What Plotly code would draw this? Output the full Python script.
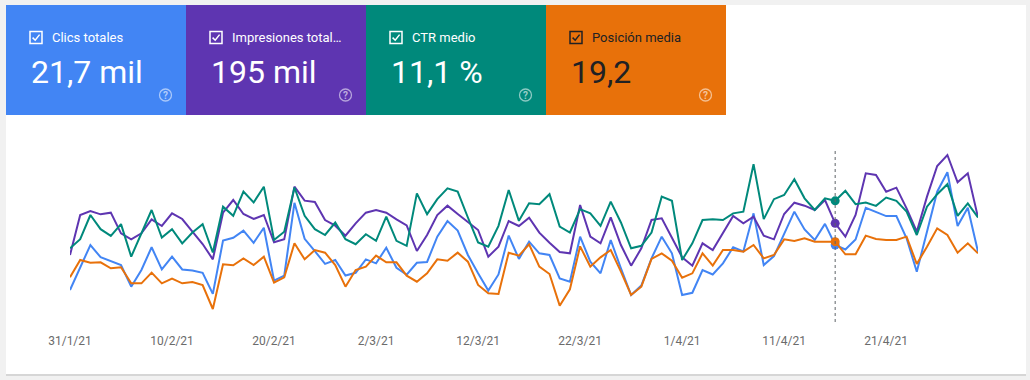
import pandas as pd
import plotly.graph_objects as go

# ---------------- data ----------------
start_date = "2021-01-31"
n_days = 90
dates = pd.date_range(start_date, periods=n_days, freq="D")

clicks = [108, 192, 270, 226, 212, 198, 120, 180, 262, 182,
          228, 182, 178, 170, 94, 286, 296, 322, 278, 332,
          142, 160, 422, 292, 248, 202, 216, 160, 170, 218,
          204, 260, 188, 163, 206, 209, 300, 356, 322, 234,
          168, 106, 164, 304, 220, 282, 240, 234, 150, 138,
          300, 210, 168, 288, 186, 90, 124, 222, 300, 240,
          90, 98, 180, 164, 204, 262, 247, 384, 198, 230,
          310, 390, 326, 288, 346, 270, 254, 290, 404, 388,
          374, 374, 294, 174, 318, 462, 532, 338, 404, 246]

impressions = [1435, 2275, 2359, 2289, 2324, 1890, 1764, 1890, 2184, 2044,
               2310, 2191, 1925, 1666, 1344, 2324, 2590, 2296, 2191, 2275,
               1701, 1764, 2870, 2576, 2548, 2170, 2051, 1841, 2100, 2324,
               2380, 2324, 2184, 2058, 1519, 1855, 2275, 2471, 2296, 2135,
               1960, 1400, 1610, 2149, 2044, 2219, 1904, 1694, 1498, 1470,
               2485, 1820, 1680, 2226, 1645, 1211, 1575, 2170, 2205, 1799,
               1386, 1211, 1680, 1540, 1890, 2254, 2100, 2240, 1841, 1764,
               2296, 2534, 2471, 2380, 2590, 2100, 1820, 2275, 3150, 3115,
               2765, 2849, 2415, 1925, 2660, 3304, 3535, 2961, 3150, 2226]

ctr = [7.2, 8.3, 11.2, 9.5, 8.7, 10.1, 6.2, 9.0, 11.8, 8.5,
       9.5, 7.8, 9.1, 10.1, 6.7, 12.2, 11.1, 14.0, 12.7, 14.6,
       8.2, 9.2, 14.5, 11.1, 9.5, 8.8, 10.3, 8.3, 7.7, 8.9,
       8.1, 11.0, 8.1, 7.5, 13.8, 11.3, 13.1, 14.4, 14.0, 10.9,
       7.9, 7.4, 9.9, 14.2, 10.5, 12.6, 12.5, 13.7, 9.8, 9.1,
       11.9, 11.4, 9.9, 12.8, 10.3, 7.2, 7.5, 9.1, 13.4, 12.9,
       5.8, 7.8, 10.6, 10.7, 10.6, 11.4, 11.6, 17.3, 10.7, 13.1,
       13.6, 15.5, 13.2, 11.8, 13.2, 12.9, 14.1, 12.5, 12.7, 12.3,
       13.3, 12.9, 11.6, 8.8, 12.2, 13.7, 14.9, 11.1, 12.6, 10.9]

position = [21.3, 18.7, 19.1, 19.05, 19.95, 19.8, 22.2, 22.2, 20.6, 22.2,
            21.5, 22.2, 22.0, 22.45, 26.05, 19.35, 19.5, 18.45, 19.45, 18.2,
            22.1, 21.3, 16.2, 18.6, 17.2, 17.6, 19.45, 22.7, 20.2, 19.7,
            18.05, 19.05, 19.05, 21.05, 21.95, 20.7, 18.6, 18.8, 17.6, 18.95,
            22.45, 23.7, 23.8, 17.6, 18.05, 16.35, 19.7, 20.8, 25.55, 23.1,
            16.65, 19.7, 18.3, 17.2, 20.45, 23.95, 22.7, 18.55, 17.7, 18.8,
            21.35, 20.7, 17.7, 19.55, 17.2, 17.2, 17.45, 16.45, 18.45, 17.95,
            15.6, 15.85, 15.45, 15.95, 15.95, 15.95, 17.85, 17.85, 15.05, 15.55,
            15.7, 15.7, 15.2, 19.3, 16.7, 13.95, 14.95, 17.6, 16.2, 17.7]

tick_dates = ["2021-01-31", "2021-02-10", "2021-02-20", "2021-03-02", "2021-03-12",
              "2021-03-22", "2021-04-01", "2021-04-11", "2021-04-21"]
tick_labels = ["31/1/21", "10/2/21", "20/2/21", "2/3/21", "12/3/21",
               "22/3/21", "1/4/21", "11/4/21", "21/4/21"]

highlight_index = 75  # hovered day (16/4/21)

card_titles = ["Clics totales", "Impresiones total…", "CTR medio", "Posición media"]
card_values = ["21,7 mil", "195 mil", "11,1 %", "19,2"]

# ---------------- style ----------------
W, H = 1030, 380
L, R, T, B = 70, 52, 140, 60
PW, PH = W - L - R, H - T - B

C_CLICKS = "#4285F4"
C_IMPR = "#5E35B1"
C_CTR = "#00897B"
C_POS = "#E8710A"
card_colors = [C_CLICKS, C_IMPR, C_CTR, C_POS]
card_text = ["#ffffff", "#ffffff", "#ffffff", "#202124"]


def px(x):
    return (x - L) / PW


def py(y):
    return (H - B - y) / PH


fig = go.Figure()

series = [
    (clicks, C_CLICKS, "y", "Clics"),
    (impressions, C_IMPR, "y2", "Impresiones"),
    (ctr, C_CTR, "y3", "CTR"),
    (position, C_POS, "y4", "Posición"),
]
for vals, col, ax, name in series:
    fig.add_trace(go.Scatter(x=dates, y=vals, mode="lines", yaxis=ax, name=name,
                             line=dict(color=col, width=2), cliponaxis=False,
                             showlegend=False, hoverinfo="skip"))
for vals, col, ax, name in series:
    fig.add_trace(go.Scatter(x=[dates[highlight_index]], y=[vals[highlight_index]],
                             mode="markers", yaxis=ax, showlegend=False,
                             marker=dict(color=col, size=9), cliponaxis=False,
                             hoverinfo="skip"))

shapes = []
annotations = []
# card background with subtle shadow
shapes.append(dict(type="rect", xref="paper", yref="paper", layer="below",
                   x0=px(6), x1=px(1026), y0=py(376), y1=py(5),
                   fillcolor="#d6d6d6", line=dict(width=0)))
shapes.append(dict(type="rect", xref="paper", yref="paper", layer="below",
                   x0=px(6), x1=px(1026), y0=py(374), y1=py(5),
                   fillcolor="#ffffff", line=dict(width=0)))

card_x = [6, 186, 366, 546, 726]
for i in range(4):
    x0 = card_x[i]
    shapes.append(dict(type="rect", xref="paper", yref="paper", layer="below",
                       x0=px(x0), x1=px(card_x[i + 1]), y0=py(115), y1=py(5),
                       fillcolor=card_colors[i], line=dict(width=0)))
    tc = card_text[i]
    # checkbox
    bx = x0 + 24
    shapes.append(dict(type="rect", xref="paper", yref="paper",
                       x0=px(bx), x1=px(bx + 12), y0=py(43.5), y1=py(31.5),
                       line=dict(color=tc, width=1.5), fillcolor="rgba(0,0,0,0)"))
    path = "M {} {} L {} {} L {} {}".format(px(bx + 2.6), py(37.6), px(bx + 5.2), py(40.2),
                                            px(bx + 9.6), py(34.6))
    shapes.append(dict(type="path", xref="paper", yref="paper", path=path,
                       line=dict(color=tc, width=1.5)))
    annotations.append(dict(xref="paper", yref="paper", x=px(x0 + 44), y=py(37.5),
                            text=card_titles[i], showarrow=False, xanchor="left",
                            yanchor="middle",
                            font=dict(family="Roboto", size=13, color=tc)))
    annotations.append(dict(xref="paper", yref="paper", x=px(x0 + 23), y=py(71.5),
                            text=card_values[i], showarrow=False, xanchor="left",
                            yanchor="middle",
                            font=dict(family="Roboto", size=32, color=tc)))
    # help icon
    cx, cy = x0 + 159.5, 95
    shapes.append(dict(type="circle", xref="paper", yref="paper",
                       x0=px(cx - 6), x1=px(cx + 6), y0=py(cy + 6), y1=py(cy - 6),
                       line=dict(color="rgba(255,255,255,0.55)", width=1.3)))
    annotations.append(dict(xref="paper", yref="paper", x=px(cx), y=py(cy + 0.5),
                            text="<b>?</b>", showarrow=False, xanchor="center",
                            yanchor="middle",
                            font=dict(family="Roboto", size=10, color="rgba(255,255,255,0.6)")))

# hover guide line
shapes.append(dict(type="line", xref="x", yref="paper",
                   x0=dates[highlight_index], x1=dates[highlight_index],
                   y0=py(322), y1=py(149),
                   line=dict(color="#5f6368", width=1, dash="dot")))

fig.update_layout(
    width=W, height=H,
    margin=dict(l=L, r=R, t=T, b=B),
    paper_bgcolor="#f1f1f1",
    plot_bgcolor="rgba(0,0,0,0)",
    shapes=shapes,
    annotations=annotations,
    showlegend=False,
    xaxis=dict(type="date", range=[dates[0], dates[-1]], showgrid=False, zeroline=False,
               showline=False, ticks="", tickvals=tick_dates, ticktext=tick_labels,
               tickfont=dict(family="Roboto", size=12, color="#6b6b6b"),
               ticklabelstandoff=12, fixedrange=True),
    yaxis=dict(range=[0, 648], visible=False, fixedrange=True),
    yaxis2=dict(range=[70, 3850], overlaying="y", visible=False, fixedrange=True),
    yaxis3=dict(range=[-1.4, 20.2], overlaying="y", visible=False, fixedrange=True),
    yaxis4=dict(range=[27.7, 0.7], overlaying="y", visible=False, fixedrange=True),
)

fig.write_html("out.html", config={"displayModeBar": False},
               post_script="document.body.style.margin='0';document.body.style.overflow='hidden';")
